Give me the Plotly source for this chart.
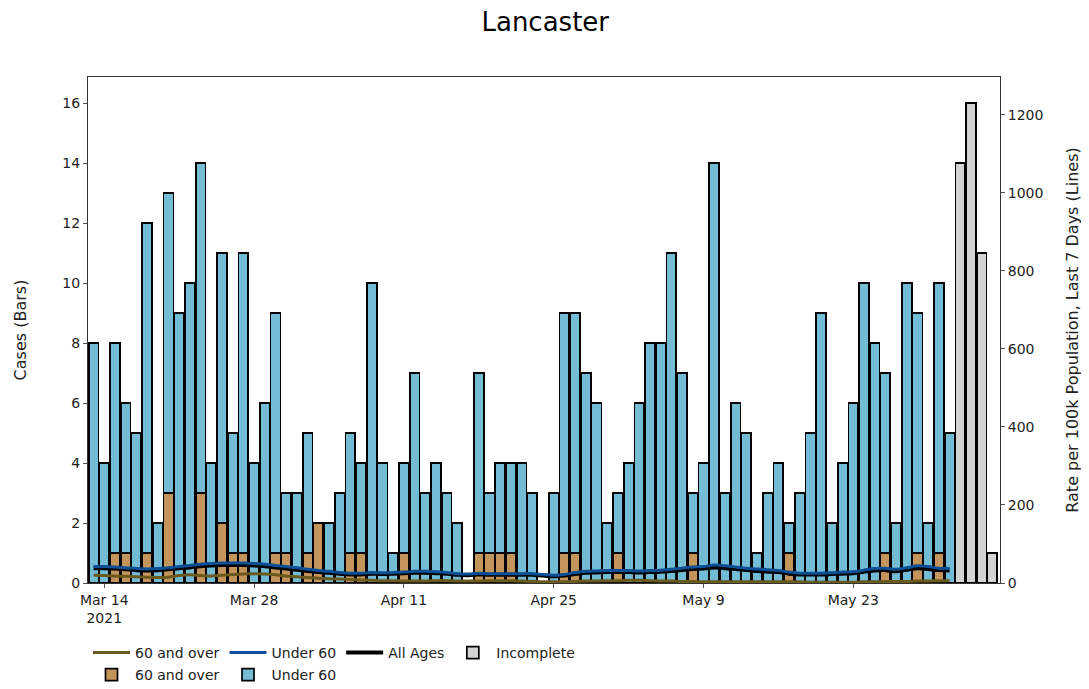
import pandas as pd
import plotly.graph_objects as go

# Daily cases, Mar 13 - Jun 1 2021 (complete days)
dates = pd.date_range("2021-03-13", "2021-06-01", freq="D")
cases_total = [8, 4, 8, 6, 5, 12, 2, 13, 9, 10, 14, 4, 11, 5, 11, 4, 6, 9, 3,
               3, 5, 2, 2, 3, 5, 4, 10, 4, 1, 4, 7, 3, 4, 3, 2, 0, 7, 3, 4, 4,
               4, 3, 0, 3, 9, 9, 7, 6, 2,
               3, 4, 6, 8, 8, 11, 7, 3, 4, 14, 3, 6, 5, 1, 3, 4, 2, 3, 5, 9, 2,
               4, 6, 10, 8, 7, 2, 10, 9, 2, 10,
               5]
cases_60_over = [0, 0, 1, 1, 0, 1, 0, 3, 0, 0, 3, 0, 2, 1, 1, 0, 0, 1, 1,
                 0, 1, 2, 0, 0, 1, 1, 0, 0, 0, 1, 0, 0, 0, 0, 0, 0, 1, 1, 1, 1,
                 0, 0, 0, 0, 1, 1, 0, 0, 0,
                 1, 0, 0, 0, 0, 0, 0, 1, 0, 0, 0, 0, 0, 0, 0, 0, 1, 0, 0, 0, 0,
                 0, 0, 0, 0, 1, 0, 0, 1, 0, 1,
                 0]
cases_under_60 = [t - o for t, o in zip(cases_total, cases_60_over)]

# Incomplete days
incomplete_dates = pd.date_range("2021-06-02", "2021-06-05", freq="D")
incomplete_cases = [14, 16, 11, 1]

# 7-day rate per 100k
rate_under_60 = [42, 42, 41, 39, 37, 36, 37, 39, 42, 45,
                 48, 50, 51, 51, 51, 50, 48, 45, 42, 39,
                 35, 32, 30, 27, 25, 25, 27, 26, 27, 28,
                 30, 30, 29, 27, 24, 23, 25, 24, 24, 24,
                 24, 24, 22, 20, 22, 27, 30, 31, 32, 32,
                 32, 31, 32, 33, 35, 38, 41, 42, 46, 44,
                 41, 38, 36, 34, 32, 28, 25, 25, 25, 26,
                 28, 29, 33, 37, 38, 35, 39, 44, 42, 38,
                 37]
rate_all_ages = [38, 38, 37, 35, 33, 32, 33, 35, 38, 40,
                 43, 45, 46, 46, 46, 45, 43, 40, 37, 34,
                 31, 28, 26, 24, 22, 22, 24, 23, 24, 25,
                 26, 26, 25, 24, 21, 20, 22, 21, 21, 21,
                 21, 21, 19, 17, 19, 23, 26, 27, 28, 28,
                 28, 27, 28, 29, 31, 33, 36, 37, 40, 38,
                 36, 33, 31, 29, 28, 24, 22, 22, 22, 23,
                 24, 25, 29, 32, 33, 30, 34, 38, 36, 33,
                 32]
rate_60_over = [20, 19, 18, 17, 16, 15, 14, 15, 19, 21,
                19, 18, 20, 22, 23, 24, 23, 21, 18, 16,
                14, 12, 11, 10, 9, 8, 7, 6, 6, 5,
                5, 5, 6, 6, 5, 5, 5, 6, 6, 6,
                5, 4, 3, 3, 3, 4, 5, 5, 6, 6,
                7, 7, 6, 5, 5, 4, 4, 3, 3, 3,
                3, 3, 3, 3, 3, 3, 3, 2, 2, 2,
                2, 2, 3, 3, 4, 4, 4, 5, 5, 6,
                6]

tick_dates = ["2021-03-14", "2021-03-28", "2021-04-11", "2021-04-25", "2021-05-09", "2021-05-23"]
tick_labels = ["Mar 14<br>2021", "Mar 28", "Apr 11", "Apr 25", "May 9", "May 23"]

FONT = "DejaVu Sans, sans-serif"
bar_line = dict(color="black", width=1.7)

fig = go.Figure()

# bars (second legend row, except Incomplete)
fig.add_trace(go.Bar(x=dates, y=cases_60_over, name="60 and over",
                     marker=dict(color="#c4955a", line=bar_line),
                     legend="legend2", legendrank=1))
fig.add_trace(go.Bar(x=dates, y=cases_under_60, name="Under 60",
                     marker=dict(color="#72bcd5", line=bar_line),
                     legend="legend2", legendrank=2))
fig.add_trace(go.Bar(x=incomplete_dates, y=incomplete_cases, name="Incomplete",
                     marker=dict(color="#d3d3d3", line=bar_line),
                     legend="legend", legendrank=4))

# rate lines on the right axis
fig.add_trace(go.Scatter(x=dates, y=rate_60_over, name="60 and over", mode="lines",
                         line=dict(color="#6b5a1e", width=3, shape="spline"),
                         yaxis="y2", legend="legend", legendrank=1))
fig.add_trace(go.Scatter(x=dates, y=rate_all_ages, name="All Ages", mode="lines",
                         line=dict(color="black", width=4, shape="spline"),
                         yaxis="y2", legend="legend", legendrank=3))
fig.add_trace(go.Scatter(x=dates, y=rate_under_60, name="Under 60", mode="lines",
                         line=dict(color="#0b4f96", width=3, shape="spline"),
                         yaxis="y2", legend="legend", legendrank=2))

axis_common = dict(showline=True, linecolor="#333333", linewidth=1, ticks="outside",
                   ticklen=4, tickcolor="#555555", showgrid=False, zeroline=False,
                   automargin=False,
                   tickfont=dict(family=FONT, size=14, color="#222222"))

legend_common = dict(orientation="h", xanchor="left", yref="container", yanchor="middle",
                     font=dict(family=FONT, size=14, color="#222222"),
                     traceorder="normal", itemwidth=37)

# page body has an 8px margin, so the figure is 8px smaller than the window
fig.update_layout(
    width=1081, height=681,
    barmode="stack", bargap=0.08,
    plot_bgcolor="white", paper_bgcolor="white",
    font=dict(family=FONT, size=13, color="#222222"),
    title=dict(text="Lancaster", x=0.497, xanchor="center", y=0.979, yanchor="middle",
               font=dict(family=FONT, size=26, color="black")),
    margin=dict(l=80, r=89, t=69, b=106),
    xaxis=dict(axis_common, type="date", mirror=True,
               range=["2021-03-12 11:30", "2021-06-05 17:00"],
               tickvals=tick_dates, ticktext=tick_labels),
    yaxis=dict(axis_common, range=[0, 16.87], tickvals=list(range(0, 17, 2)),
               title=dict(text="Cases (Bars)", font=dict(family=FONT, size=16), standoff=31)),
    yaxis2=dict(axis_common, overlaying="y", side="right", range=[0, 1297],
                tickvals=list(range(0, 1201, 200)),
                title=dict(text="Rate per 100k Population, Last 7 Days (Lines)",
                           font=dict(family=FONT, size=16), standoff=24)),
    legend=dict(legend_common, x=0.0, y=0.0529),
    legend2=dict(legend_common, x=0.0, y=0.0206),
)

fig.write_html("out.html")
